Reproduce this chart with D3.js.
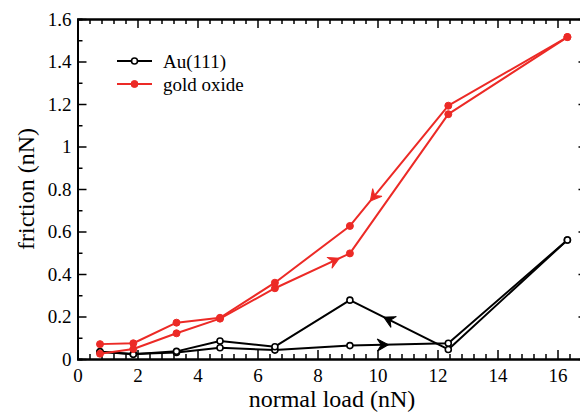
<!DOCTYPE html>
<html>
<head>
<meta charset="utf-8">
<script src="https://cdn.jsdelivr.net/npm/d3@7"></script>
<style>
  body { margin: 0; background: #fff; }
  svg { display: block; }
  svg text { font-family: "Liberation Serif", "Times New Roman", serif !important; }
</style>
</head>
<body>
<script>
const width = 580;
const height = 412;
const red = "#ec2a26";

// normal load (nN) at which friction was measured
const loads = [0.75, 1.86, 3.3, 4.75, 6.58, 9.08, 12.36, 16.33];
// friction (nN), loading and unloading branches
const auLoad = [0.034, 0.024, 0.031, 0.053, 0.042, 0.063, 0.074, 0.56];
const auUnload = [0.034, 0.022, 0.036, 0.085, 0.058, 0.277, 0.045, 0.56];
const oxLoad = [0.025, 0.047, 0.121, 0.19, 0.333, 0.497, 1.152, 1.515];
const oxUnload = [0.07, 0.074, 0.171, 0.194, 0.359, 0.626, 1.192, 1.515];

const xTicks = [0, 2, 4, 6, 8, 10, 12, 14, 16];
const yTicks = [0, 0.2, 0.4, 0.6, 0.8, 1, 1.2, 1.4, 1.6];

const margin = {top: 19, right: -7.5, bottom: 53, left: 77.5};

const x = d3.scaleLinear().domain([0, 17]).range([margin.left, width - margin.right]);
const y = d3.scaleLinear().domain([0, 1.6]).range([height - margin.bottom, margin.top]);

const svg = d3.select("body").append("svg")
    .attr("width", width)
    .attr("height", height);

// curves: points go from low load up to the top and back down
const curves = [
    {name: "Au(111)", color: "#000", filled: false, load: auLoad, unload: auUnload},
    {name: "gold oxide", color: red, filled: true, load: oxLoad, unload: oxUnload}
];

// direction arrows: branch, segment start index, fraction along segment
const arrows = [
    {curve: 0, branch: "load", from: 5, to: 6, t: 0.34},
    {curve: 0, branch: "unload", from: 6, to: 5, t: 0.61},
    {curve: 1, branch: "load", from: 4, to: 5, t: 0.8},
    {curve: 1, branch: "unload", from: 6, to: 5, t: 0.76}
];

const line = d3.line().x(d => x(d[0])).y(d => y(d[1]));

// axes frame and ticks
function axisGroup(axis, transform) {
    const g = svg.append("g").attr("transform", transform).call(axis);
    g.select(".domain").attr("stroke-width", 2);
    g.selectAll(".tick line").attr("stroke-width", 1.5);
    g.selectAll("text").attr("font-size", 19).attr("fill", "#000");
    return g;
}
const minorX = d3.range(0, 17.01, 0.4).filter(v => Math.abs(v / 2 - Math.round(v / 2)) > 1e-6);
const minorY = d3.range(0.1, 1.6, 0.2);

axisGroup(d3.axisBottom(x).tickValues(xTicks).tickSizeInner(-9).tickSizeOuter(0).tickPadding(10),
    `translate(0,${y(0)})`);
axisGroup(d3.axisBottom(x).tickValues(minorX).tickSize(-5).tickFormat(""), `translate(0,${y(0)})`);

axisGroup(d3.axisTop(x).tickValues(xTicks).tickSizeInner(-9).tickSizeOuter(0).tickFormat(""), `translate(0,${y(1.6)})`);
axisGroup(d3.axisTop(x).tickValues(minorX).tickSize(-5).tickFormat(""), `translate(0,${y(1.6)})`);

axisGroup(d3.axisLeft(y).tickValues(yTicks).tickSizeInner(-9).tickSizeOuter(0).tickPadding(6)
    .tickFormat(d3.format("~g")), `translate(${x(0)},0)`);
axisGroup(d3.axisLeft(y).tickValues(minorY).tickSize(-5).tickFormat(""), `translate(${x(0)},0)`);

axisGroup(d3.axisRight(y).tickValues(yTicks).tickSizeInner(-9).tickSizeOuter(0).tickFormat(""), `translate(${x(17)},0)`);
axisGroup(d3.axisRight(y).tickValues(minorY).tickSize(-5).tickFormat(""), `translate(${x(17)},0)`);

// axis titles
svg.append("text")
    .attr("x", 332).attr("y", 407)
    .attr("text-anchor", "middle")
    .attr("font-size", 24)
    .text("normal load (nN)");

svg.append("text")
    .attr("transform", `translate(34,${(y(0) + y(1.6)) / 2}) rotate(-90)`)
    .attr("text-anchor", "middle")
    .attr("font-size", 24)
    .text("friction (nN)");

// data lines, markers, arrows
curves.forEach((c, ci) => {
    const loadPts = loads.map((v, i) => [v, c.load[i]]);
    const unloadPts = loads.map((v, i) => [v, c.unload[i]]);
    const g = svg.append("g");
    [loadPts, unloadPts].forEach(pts => {
        g.append("path")
            .datum(pts)
            .attr("fill", "none")
            .attr("stroke", c.color)
            .attr("stroke-width", 2)
            .attr("stroke-linejoin", "round")
            .attr("d", line);
    });
    g.selectAll("circle")
        .data(loadPts.concat(unloadPts))
        .enter().append("circle")
        .attr("cx", d => x(d[0]))
        .attr("cy", d => y(d[1]))
        .attr("r", c.filled ? 3.5 : 3)
        .attr("fill", c.filled ? c.color : "#fff")
        .attr("stroke", c.color)
        .attr("stroke-width", c.filled ? 1 : 1.6);

    arrows.filter(a => a.curve === ci).forEach(a => {
        const vals = a.branch === "load" ? c.load : c.unload;
        const x0 = x(loads[a.from]), y0 = y(vals[a.from]);
        const x1 = x(loads[a.to]), y1 = y(vals[a.to]);
        const px = x0 + (x1 - x0) * a.t, py = y0 + (y1 - y0) * a.t;
        const ang = Math.atan2(y1 - y0, x1 - x0) * 180 / Math.PI;
        g.append("path")
            .attr("d", "M5,0 L-6,-6 L-2,0 L-6,6 Z")
            .attr("fill", c.color)
            .attr("stroke", c.color)
            .attr("stroke-width", 1)
            .attr("stroke-linejoin", "miter")
            .attr("transform", `translate(${px},${py}) rotate(${ang})`);
    });
});

// legend
const legend = svg.append("g").attr("transform", "translate(117,61)");
curves.forEach((c, i) => {
    const row = legend.append("g").attr("transform", `translate(0,${i * 23})`);
    row.append("line")
        .attr("x1", 0).attr("x2", 35)
        .attr("stroke", c.color)
        .attr("stroke-width", 2);
    row.append("circle")
        .attr("cx", 17.5).attr("cy", 0)
        .attr("r", c.filled ? 3.5 : 3)
        .attr("fill", c.filled ? c.color : "#fff")
        .attr("stroke", c.color)
        .attr("stroke-width", c.filled ? 1 : 1.6);
    row.append("text")
        .attr("x", 46).attr("y", 7)
        .attr("font-size", 19)
        .text(c.name);
});
</script>
</body>
</html>
